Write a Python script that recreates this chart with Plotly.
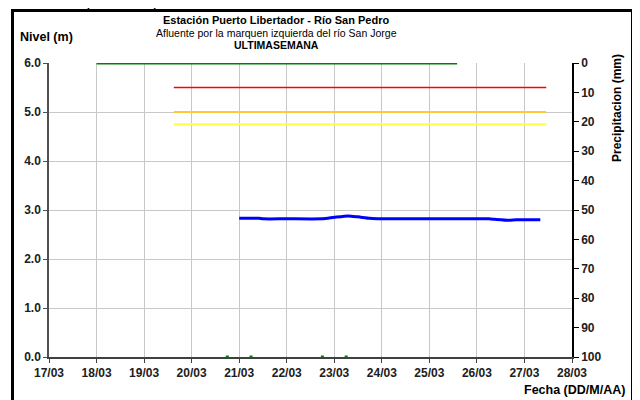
import plotly.graph_objects as go

# ---- data ----
nivel_t = ["2014-03-21 00:00", "2014-03-21 10:00", "2014-03-21 12:00", "2014-03-22 00:00",
           "2014-03-22 18:00", "2014-03-23 00:00", "2014-03-23 07:00", "2014-03-23 12:00",
           "2014-03-23 18:00", "2014-03-24 00:00", "2014-03-25 00:00", "2014-03-26 06:00",
           "2014-03-26 09:00", "2014-03-26 16:00", "2014-03-26 20:00", "2014-03-27 08:00"]
nivel_v = [2.83, 2.83, 2.82, 2.82, 2.82, 2.85, 2.88, 2.86, 2.83, 2.82, 2.82, 2.82,
           2.81, 2.79, 2.80, 2.80]

umbral_t = ["2014-03-19 15:00", "2014-03-27 11:00"]
umbral_rojo = [5.5, 5.5]
umbral_naranja = [5.0, 5.0]
umbral_amarillo = [4.75, 4.75]

precip_t = ["2014-03-18 00:00", "2014-03-19 00:00", "2014-03-20 00:00", "2014-03-21 00:00",
            "2014-03-22 00:00", "2014-03-23 00:00", "2014-03-24 00:00", "2014-03-25 00:00",
            "2014-03-25 14:00"]
precip_v = [0, 0, 0, 0, 0, 0, 0, 0, 0]

puntos_t = ["2014-03-20 18:00", "2014-03-21 06:00", "2014-03-22 18:00", "2014-03-23 06:00"]
puntos_v = [0, 0, 0, 0]

x_range = ["2014-03-17 00:00", "2014-03-28 00:00"]

FONT = "Liberation Sans, Arial, sans-serif"

# page offset (body margin) compensation
OFF = 8
L, T, PW, PH = 49 - OFF, 63 - OFF, 523, 294


def px(page_x):
    return (page_x - OFF - L) / PW


def py(page_y):
    return (T + PH - (page_y - OFF)) / PH


fig = go.Figure()
fig.add_trace(go.Scatter(x=umbral_t, y=umbral_rojo, mode="lines",
                         line=dict(color="#ff0000", width=1.5), hoverinfo="skip"))
fig.add_trace(go.Scatter(x=umbral_t, y=umbral_naranja, mode="lines",
                         line=dict(color="#ffc83c", width=2), hoverinfo="skip"))
fig.add_trace(go.Scatter(x=umbral_t, y=umbral_amarillo, mode="lines",
                         line=dict(color="#ffff40", width=2), hoverinfo="skip"))
fig.add_trace(go.Scatter(x=nivel_t, y=nivel_v, mode="lines",
                         line=dict(color="#0000ff", width=3, shape="spline", smoothing=0.6)))
fig.add_trace(go.Scatter(x=puntos_t, y=puntos_v, mode="markers", cliponaxis=False,
                         marker=dict(color="#008000", size=3, symbol="square")))
fig.add_trace(go.Scatter(x=precip_t, y=precip_v, mode="lines", yaxis="y2", cliponaxis=False,
                         line=dict(color="#008000", width=3)))

tickfont = dict(family=FONT, size=12, color="#202020", weight="bold")


def note(text, x, y, size, xanchor="center", yanchor="middle", angle=0):
    return dict(text=text, xref="paper", yref="paper", x=x, y=y, xanchor=xanchor,
                yanchor=yanchor, textangle=angle, showarrow=False,
                font=dict(size=size, family=FONT, color="black"))


fig.update_layout(
    width=640, height=400,
    margin=dict(l=L, r=640 - L - PW, t=T, b=400 - T - PH),
    paper_bgcolor="white", plot_bgcolor="white",
    showlegend=False,
    font=dict(family=FONT, color="black", size=11),
    xaxis=dict(
        range=x_range, type="date", dtick=86400000, tickformat="%d/%m",
        showgrid=True, gridcolor="#c8c8c8", gridwidth=1,
        showline=True, linecolor="#404040", linewidth=1.5,
        ticks="outside", ticklen=4, tickcolor="#404040",
        tickfont=tickfont, zeroline=False,
    ),
    yaxis=dict(
        range=[0, 6], dtick=1, tickformat=".1f",
        showgrid=True, gridcolor="#c8c8c8", gridwidth=1,
        showline=True, linecolor="#505050", linewidth=1.5,
        ticks="outside", ticklen=4, tickcolor="#505050",
        tickfont=tickfont, zeroline=False,
    ),
    yaxis2=dict(
        overlaying="y", side="right", range=[100, 0], dtick=10,
        showgrid=False, showline=True, linecolor="black", linewidth=1.5,
        ticks="outside", ticklen=5, tickcolor="black",
        tickfont=tickfont, zeroline=False,
    ),
    shapes=[dict(type="rect", xref="paper", yref="paper",
                 x0=px(12.5), x1=px(632.5), y0=py(410), y1=py(10.5),
                 line=dict(color="black", width=3), fillcolor="rgba(0,0,0,0)")],
    annotations=[
        note("<b>Estación Puerto Libertador - Río San Pedro</b>", px(276), py(20), 11),
        note("Afluente por la marquen izquierda del río San Jorge", px(276), py(33), 10.5),
        note("<b>ULTIMASEMANA</b>", px(276), py(45), 10.5),
        note("<b>Nivel (m)</b>", px(18), py(37), 12.5, xanchor="left"),
        note("<b>Precipitacion (mm)</b>", px(617), py(108), 12, angle=-90),
        note("<b>Fecha (DD/M/AA)</b>", px(627), py(390), 12.5, xanchor="right"),
        note("históricos para la época.", px(8), py(13), 17, xanchor="left", yanchor="bottom"),
    ],
)

fig.write_html("out.html")
